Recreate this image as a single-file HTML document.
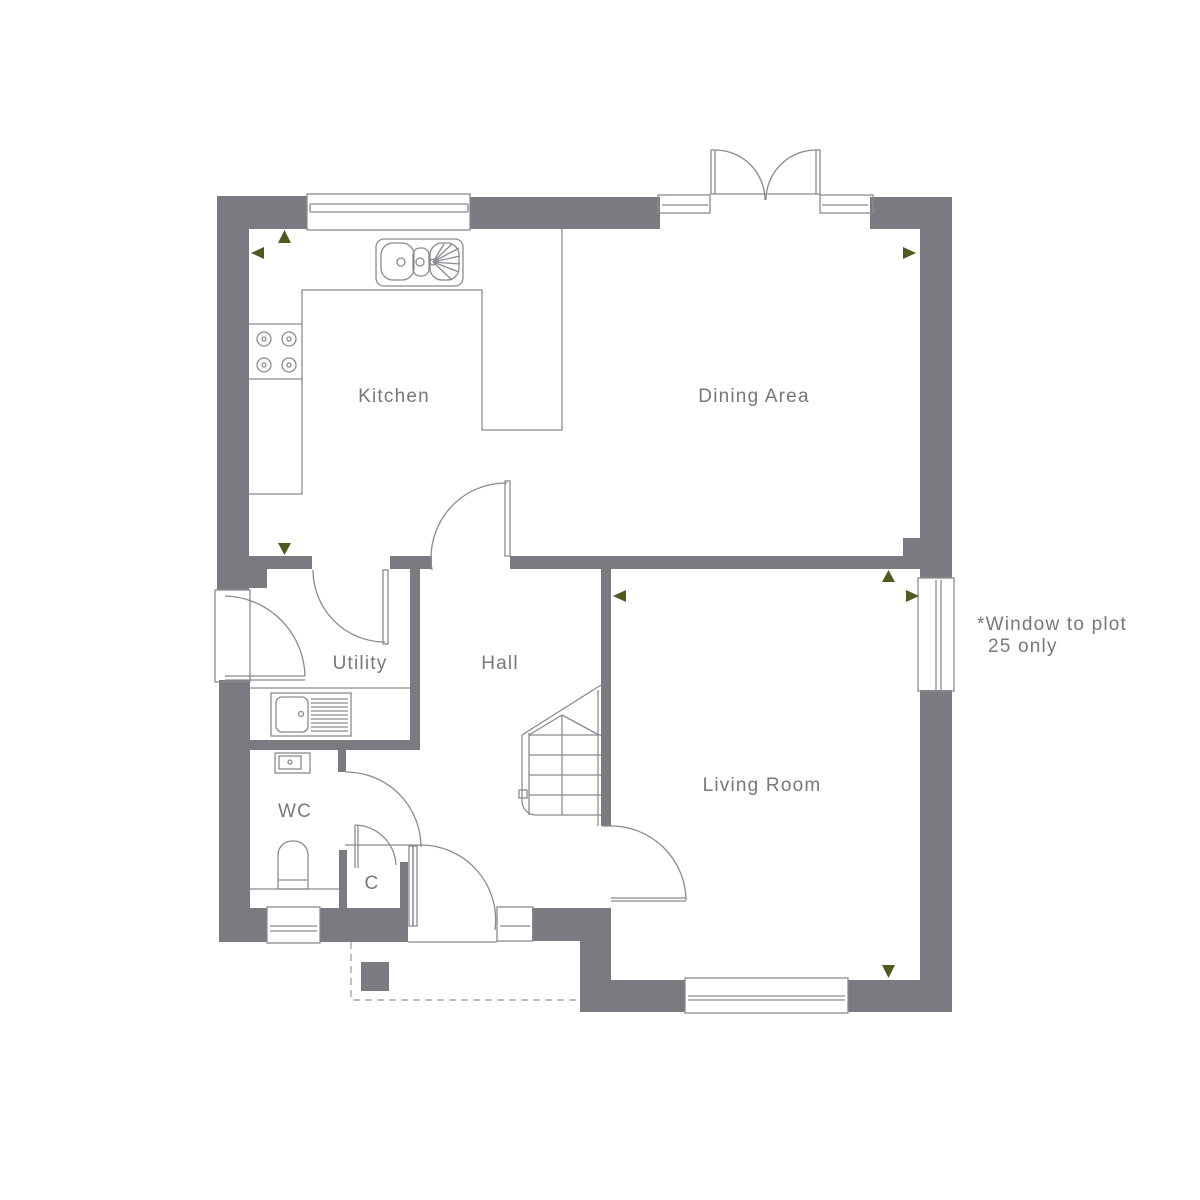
<!DOCTYPE html>
<html><head><meta charset="utf-8"><style>
html,body{margin:0;padding:0;background:#fff;width:1200px;height:1200px;overflow:hidden}
svg{display:block}
text{font-family:"Liberation Sans",sans-serif;fill:#77777c;font-size:19px;letter-spacing:1.2px}
</style></head><body>
<svg width="1200" height="1200" viewBox="0 0 1200 1200">
<g fill="#7a7b80">
<rect x="217" y="196" width="90" height="33"/>
<rect x="470" y="197" width="190" height="32"/>
<rect x="870" y="197" width="82" height="32"/>
<rect x="920" y="197" width="32" height="381"/>
<rect x="920" y="690" width="32" height="322"/>
<rect x="217" y="196" width="32" height="394"/>
<rect x="217" y="568" width="50" height="20"/>
<rect x="219" y="680" width="31" height="262"/>
<rect x="249" y="556" width="63" height="13"/>
<rect x="390" y="556" width="42" height="13"/>
<rect x="510" y="556" width="410" height="13"/>
<rect x="903" y="538" width="17" height="20"/>
<rect x="410" y="569" width="10" height="181"/>
<rect x="250" y="740" width="170" height="10"/>
<rect x="338" y="750" width="8" height="22"/>
<rect x="601" y="569" width="10" height="257"/>
<rect x="219" y="908" width="48" height="34"/>
<rect x="320" y="908" width="88" height="34"/>
<rect x="339" y="850" width="8" height="60"/>
<rect x="400" y="862" width="8" height="48"/>
<rect x="532" y="908" width="79" height="33"/>
<rect x="580" y="908" width="31" height="104"/>
<rect x="580" y="980" width="105" height="32"/>
<rect x="848" y="980" width="104" height="32"/>
<rect x="361" y="962" width="28" height="29"/>
</g>
<g fill="none" stroke="#8a8b90" stroke-width="1.3">
<rect x="307" y="194" width="163" height="36"/><line x1="310" y1="204" x2="468" y2="204"/><line x1="310" y1="212" x2="468" y2="212"/><line x1="310" y1="204" x2="310" y2="212"/><line x1="468" y1="204" x2="468" y2="212"/>
<rect x="658" y="195" width="52" height="18"/><line x1="662" y1="205" x2="708" y2="205"/>
<rect x="820" y="195" width="53" height="18"/><line x1="822" y1="205" x2="868" y2="205"/>
<rect x="711" y="150" width="4" height="44"/><rect x="816" y="150" width="4" height="44"/>
<line x1="715" y1="194" x2="816" y2="194"/>
<path d="M715,150 A50,50 0 0 1 765,200"/><path d="M816,150 A50,50 0 0 0 766,200"/>
<rect x="918" y="578" width="36" height="113"/><line x1="936" y1="580" x2="936" y2="690"/><line x1="941" y1="580" x2="941" y2="690"/>
<rect x="685" y="978" width="163" height="35"/><line x1="688" y1="996" x2="845" y2="996"/><line x1="688" y1="1000" x2="845" y2="1000"/>
<rect x="267" y="907" width="53" height="36"/><line x1="270" y1="926" x2="317" y2="926"/><line x1="270" y1="931" x2="317" y2="931"/>
<rect x="497" y="907" width="36" height="34"/><line x1="500" y1="926" x2="530" y2="926"/>
<polyline points="249,494 302,494 302,290 482,290 482,430 562,430 562,229"/>
<line x1="249" y1="324" x2="302" y2="324"/><line x1="249" y1="379" x2="302" y2="379"/>
<circle cx="264" cy="339" r="7"/><circle cx="289" cy="339" r="7"/><circle cx="264" cy="365" r="7"/><circle cx="289" cy="365" r="7"/>
<circle cx="264" cy="339" r="2"/><circle cx="289" cy="339" r="2"/><circle cx="264" cy="365" r="2"/><circle cx="289" cy="365" r="2"/>
<rect x="376" y="239" width="87" height="47" rx="8"/>
<rect x="381" y="243" width="33" height="37" rx="12"/>
<rect x="413" y="248" width="16" height="28" rx="7"/>
<rect x="430" y="243" width="29" height="37" rx="12"/>
<circle cx="401" cy="262" r="4"/><circle cx="420" cy="262" r="4"/><circle cx="433" cy="262" r="3"/>
<path d="M433,262 L459,248 M433,262 L460,256 M433,262 L460,264 M433,262 L459,272 M433,262 L452,280 M433,262 L444,244 M433,262 L452,244"/>
<path d="M313,570 A72,72 0 0 0 385,642"/><rect x="383" y="570" width="5" height="74"/>
<path d="M432,570 A75,75 0 0 1 507,483"/><rect x="505" y="481" width="5" height="75"/>
<rect x="215" y="590" width="35" height="92"/>
<path d="M225,596 A82,82 0 0 1 305,676"/><line x1="225" y1="676" x2="305" y2="676"/><line x1="225" y1="680" x2="305" y2="680"/>
<line x1="250" y1="688" x2="410" y2="688"/>
<rect x="271" y="693" width="80" height="43"/><rect x="276" y="697" width="32" height="35" rx="6"/>
<circle cx="301" cy="714" r="2.5"/>
<path d="M311,699 H348 M311,703 H348 M311,707 H348 M311,711 H348 M311,715 H348 M311,719 H348 M311,723 H348 M311,727 H348 M311,731 H348"/>
<rect x="275" y="753" width="35" height="20"/><rect x="279" y="756" width="22" height="13"/><circle cx="290" cy="762" r="2"/>
<path d="M278,889 V855 a14,14 0 0 1 14,-14 h2 a14,14 0 0 1 14,14 V889 Z"/><line x1="278" y1="880" x2="308" y2="880"/>
<line x1="250" y1="889" x2="339" y2="889"/>
<path d="M346,772 A75,75 0 0 1 421,847"/>
<path d="M355,825 A42,42 0 0 1 396,865"/><line x1="355" y1="825" x2="355" y2="868"/><line x1="358" y1="825" x2="358" y2="868"/>
<line x1="345" y1="845" x2="420" y2="845"/>
<rect x="409" y="846" width="4" height="80"/><rect x="413" y="846" width="4" height="80"/>
<path d="M420,845 A75,75 0 0 1 495,930"/>
<line x1="408" y1="942" x2="497" y2="942"/>
<polyline points="601,685 522,735 522,795"/>
<path d="M522,795 v6 a14,14 0 0 0 14,14 H601"/>
<rect x="519" y="790" width="8" height="8"/>
<line x1="529" y1="733" x2="529" y2="815"/>
<line x1="529" y1="735" x2="562" y2="715"/><line x1="562" y1="715" x2="599" y2="735"/>
<line x1="562" y1="715" x2="562" y2="815"/>
<line x1="529" y1="735" x2="601" y2="735"/><line x1="529" y1="755" x2="601" y2="755"/><line x1="529" y1="775" x2="601" y2="775"/><line x1="529" y1="795" x2="601" y2="795"/>
<line x1="598" y1="690" x2="598" y2="826"/>
<path d="M611,826 A75,75 0 0 1 686,900"/><line x1="611" y1="898" x2="686" y2="898"/><line x1="611" y1="901" x2="686" y2="901"/>
<line x1="602" y1="826" x2="611" y2="826"/>
</g>
<path d="M351,942 V1000 H580" fill="none" stroke="#999" stroke-width="1.2" stroke-dasharray="7,5"/>
<g fill="#4f5a20">
<polygon points="278,243 291,243 284.5,230"/>
<polygon points="251,253 264,247 264,259"/>
<polygon points="278,543 291,543 284.5,555"/>
<polygon points="916,253 903,247 903,259"/>
<polygon points="882,582 895,582 888.5,570"/>
<polygon points="919,596 906,590 906,602"/>
<polygon points="613,596 626,590 626,602"/>
<polygon points="882,965 895,965 888.5,978"/>
</g>
<text x="394" y="402" text-anchor="middle">Kitchen</text>
<text x="754" y="402" text-anchor="middle">Dining Area</text>
<text x="360" y="669" text-anchor="middle">Utility</text>
<text x="500" y="669" text-anchor="middle">Hall</text>
<text x="295" y="817" text-anchor="middle">WC</text>
<text x="372" y="889" text-anchor="middle">C</text>
<text x="762" y="791" text-anchor="middle">Living Room</text>
<text x="977" y="630">*Window to plot</text>
<text x="988" y="652">25 only</text>
</svg>
</body></html>
